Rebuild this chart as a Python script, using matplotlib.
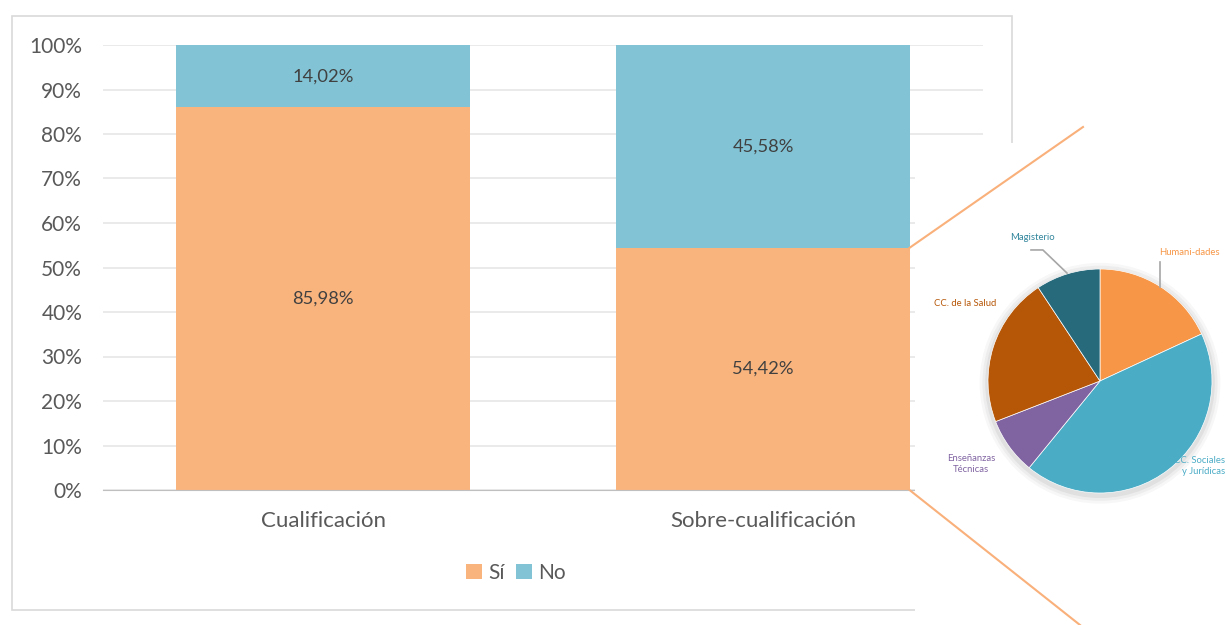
import matplotlib
matplotlib.use("Agg")
import matplotlib.pyplot as plt
from matplotlib.patches import Rectangle
from matplotlib.lines import Line2D
import numpy as np

categories = ["Cualificación", "Sobre-cualificación"]
si_values = [85.98, 54.42]
no_values = [14.02, 45.58]
series_names = ["Sí", "No"]

pie_labels = ["Humani-dades", "CC. Sociales\ny Jurídicas", "Enseñanzas\nTécnicas", "CC. de la Salud", "Magisterio"]
pie_values = [18.1, 42.8, 8.2, 21.6, 9.3]

plt.rcParams['font.family'] = ['Lato', 'DejaVu Sans']

W, H = 1227, 625
fig = plt.figure(figsize=(W / 100, H / 100), dpi=100)
fig.patch.set_facecolor("white")

def fx(px): return px / W
def fy(py): return 1 - py / H

# outer frame of the bar chart
frame = Rectangle((fx(12), fy(610)), fx(1012) - fx(12), fy(16) - fy(610),
                  transform=fig.transFigure, fill=False, edgecolor="#D9D9D9", lw=1.2, zorder=-1)
fig.add_artist(frame)

ax = fig.add_axes([fx(103), fy(490), fx(983) - fx(103), fy(45) - fy(490)])
x = np.arange(len(categories))
si = np.array(si_values) / 100
no = np.array(no_values) / 100
c_si, c_no = "#F9B47E", "#82C4D6"
width = 0.666
ax.bar(x, si, width, color=c_si, label=series_names[0], zorder=2)
ax.bar(x, no, width, bottom=si, color=c_no, label=series_names[1], zorder=2)
for i in range(len(x)):
    ax.text(x[i], si[i] / 2, f"{si_values[i]:.2f}%".replace(".", ","), ha="center", va="center",
            fontsize=13.2, color="#404040", zorder=3)
    ax.text(x[i], si[i] + no[i] / 2, f"{no_values[i]:.2f}%".replace(".", ","), ha="center", va="center",
            fontsize=13.2, color="#404040", zorder=3)
ax.set_xlim(-0.5, 1.5)
ax.set_ylim(0, 1)
ax.set_yticks(np.arange(0, 1.01, 0.1))
ax.set_yticklabels([f"{int(round(v * 100))}%" for v in np.arange(0, 1.01, 0.1)])
ax.set_xticks(x)
ax.set_xticklabels(categories)
ax.tick_params(axis="y", length=0, labelsize=15, labelcolor="#595959", pad=15)
ax.tick_params(axis="x", length=0, labelsize=16, labelcolor="#595959", pad=15)
ax.grid(axis="y", color="#E6E6E6", lw=1.2, zorder=0)
for s in ["top", "right", "left"]:
    ax.spines[s].set_visible(False)
ax.spines["bottom"].set_color("#BFBFBF")
ax.spines["bottom"].set_zorder(3)
leg = ax.legend(loc="center", bbox_to_anchor=(fx(516), fy(573)), bbox_transform=fig.transFigure,
                ncol=2, frameon=False, fontsize=15, handlelength=0.75, handleheight=0.75,
                handletextpad=0.3, columnspacing=0.55)
for t in leg.get_texts():
    t.set_color("#595959")

# pie chart box
px0, py0, px1, py1 = 915, 143, 1227, 625
pax = fig.add_axes([fx(px0), fy(py1), fx(px1) - fx(px0), fy(py0) - fy(py1)], zorder=2)
pax.set_facecolor("white")
cx, cy, R = 1100, 381, 112
pie_colors = ["#F79646", "#4BACC6", "#8064A2", "#B65708", "#276A7C"]
label_colors = ["#F79646", "#4BACC6", "#8064A2", "#B65708", "#31859C"]
# subtle shadow
for k, a in enumerate([0.05, 0.04, 0.03]):
    pax.add_patch(plt.Circle((0.0, -0.02), 1.0 + 0.025 * (k + 1), color="black", alpha=a, lw=0, zorder=0))
pax.pie(pie_values, colors=pie_colors, startangle=90, counterclock=False, radius=1, center=(0, 0),
        frame=True, wedgeprops=dict(lw=0.5, edgecolor="white"))
pax.set_xlim((px0 - cx) / R, (px1 - cx) / R)
pax.set_ylim((cy - py1) / R, (cy - py0) / R)
pax.set_xticks([]); pax.set_yticks([])
for s in pax.spines.values():
    s.set_visible(False)

label_pos = [(0.80, 1.15, "center"), (1.12, -0.76, "right"), (-1.15, -0.74, "center"),
             (-1.205, 0.69, "center"), (-0.607, 1.277, "center")]
for lab, col, (lx, ly, ha) in zip(pie_labels, label_colors, label_pos):
    pax.text(lx, ly, lab, ha=ha, va="center", fontsize=6.8, color=col, linespacing=1.25,
             multialignment="right" if ha == "right" else "center", clip_on=False)
# leader lines
pax.plot([-0.616, -0.51, -0.295], [1.17, 1.17, 0.964], color="#A6A6A6", lw=1.2)
pax.plot([0.536, 0.536], [1.06, 0.84], color="#A6A6A6", lw=1.2)

# connector lines from the sobre-cualificación "Sí" segment to the pie box
p_top = fig.transFigure.inverted().transform(ax.transData.transform((x[1] + width / 2, si[1])))
p_bot = fig.transFigure.inverted().transform(ax.transData.transform((x[1] + width / 2, 0)))
fig.add_artist(Line2D([p_top[0], fx(1083)], [p_top[1], fy(127)], color="#F9B07A", lw=1.5, zorder=5))
fig.add_artist(Line2D([p_bot[0], fx(1080)], [p_bot[1], fy(625)], color="#F9B07A", lw=1.5, zorder=5))

fig.savefig("out.png", dpi=100, facecolor="white")
